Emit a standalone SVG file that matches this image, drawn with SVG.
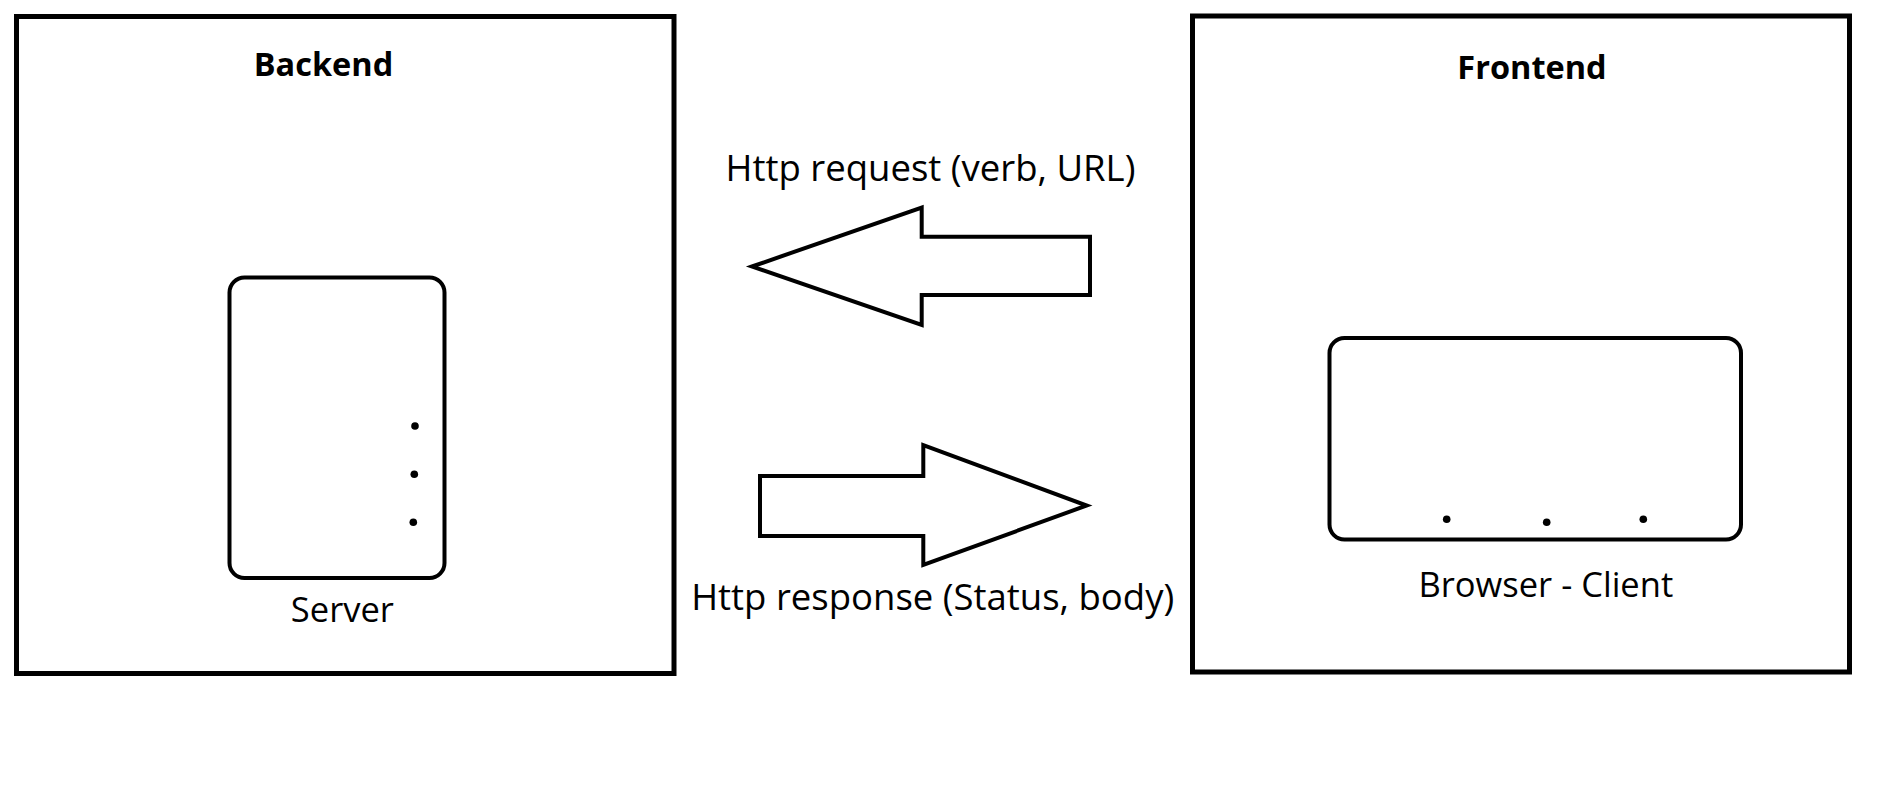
<svg xmlns="http://www.w3.org/2000/svg" width="1884" height="797" viewBox="0 0 1884 797">
  <style>
    .box { fill: #ffffff; stroke: #000000; stroke-width: 5; }
    .inner { fill: #ffffff; stroke: #000000; stroke-width: 4; }
    .arrow { fill: #ffffff; stroke: #000000; stroke-width: 4; stroke-linejoin: miter; }
    .dot { fill: #000000; }
    .title { font-family: "Open Sans", "Liberation Sans", sans-serif; font-weight: bold; font-size: 32.5px; fill: #000000; text-anchor: middle; }
    .label { font-family: "Open Sans", "Liberation Sans", sans-serif; font-size: 34.5px; fill: #000000; text-anchor: middle; }
    .clabel { font-family: "Open Sans", "Liberation Sans", sans-serif; font-size: 36.5px; fill: #000000; text-anchor: middle; }
  </style>
  <rect width="1884" height="797" fill="#ffffff"/>
  <g id="backend">
    <rect class="box" x="16.5" y="16.5" width="657.5" height="657"/>
    <text class="title" x="323.5" y="76">Backend</text>
  </g>
  <g id="server">
    <rect class="inner" x="229.5" y="277.5" width="215" height="300.5" rx="15" ry="15"/>
    <circle class="dot" cx="415" cy="426" r="3.8"/>
    <circle class="dot" cx="414.3" cy="474.3" r="3.8"/>
    <circle class="dot" cx="413.3" cy="522.3" r="3.8"/>
    <text class="label" x="342.4" y="622">Server</text>
  </g>
  <g id="frontend">
    <rect class="box" x="1192.5" y="16" width="657" height="656"/>
    <text class="title" x="1532" y="79">Frontend</text>
  </g>
  <g id="browser">
    <rect class="inner" x="1329.5" y="338" width="411.5" height="201.5" rx="15" ry="15"/>
    <circle class="dot" cx="1446.7" cy="519.3" r="3.8"/>
    <circle class="dot" cx="1546.7" cy="522.3" r="3.8"/>
    <circle class="dot" cx="1643.3" cy="519.3" r="3.8"/>
    <text class="label" x="1545.8" y="597.3">Browser - Client</text>
  </g>
  <g id="connectors">
    <g id="request">
      <polygon class="arrow" points="752,266.5 921.7,207.5 921.7,236.7 1090,236.7 1090,295 921.7,295 921.7,325"/>
      <text class="clabel" x="930.5" y="181">Http request (verb, URL)</text>
    </g>
    <g id="response">
      <polygon class="arrow" points="760,476 923.3,476 923.3,445 1086.7,505.5 923.3,565 923.3,536 760,536"/>
      <text class="clabel" x="932.7" y="610.3">Http response (Status, body)</text>
    </g>
  </g>
</svg>
